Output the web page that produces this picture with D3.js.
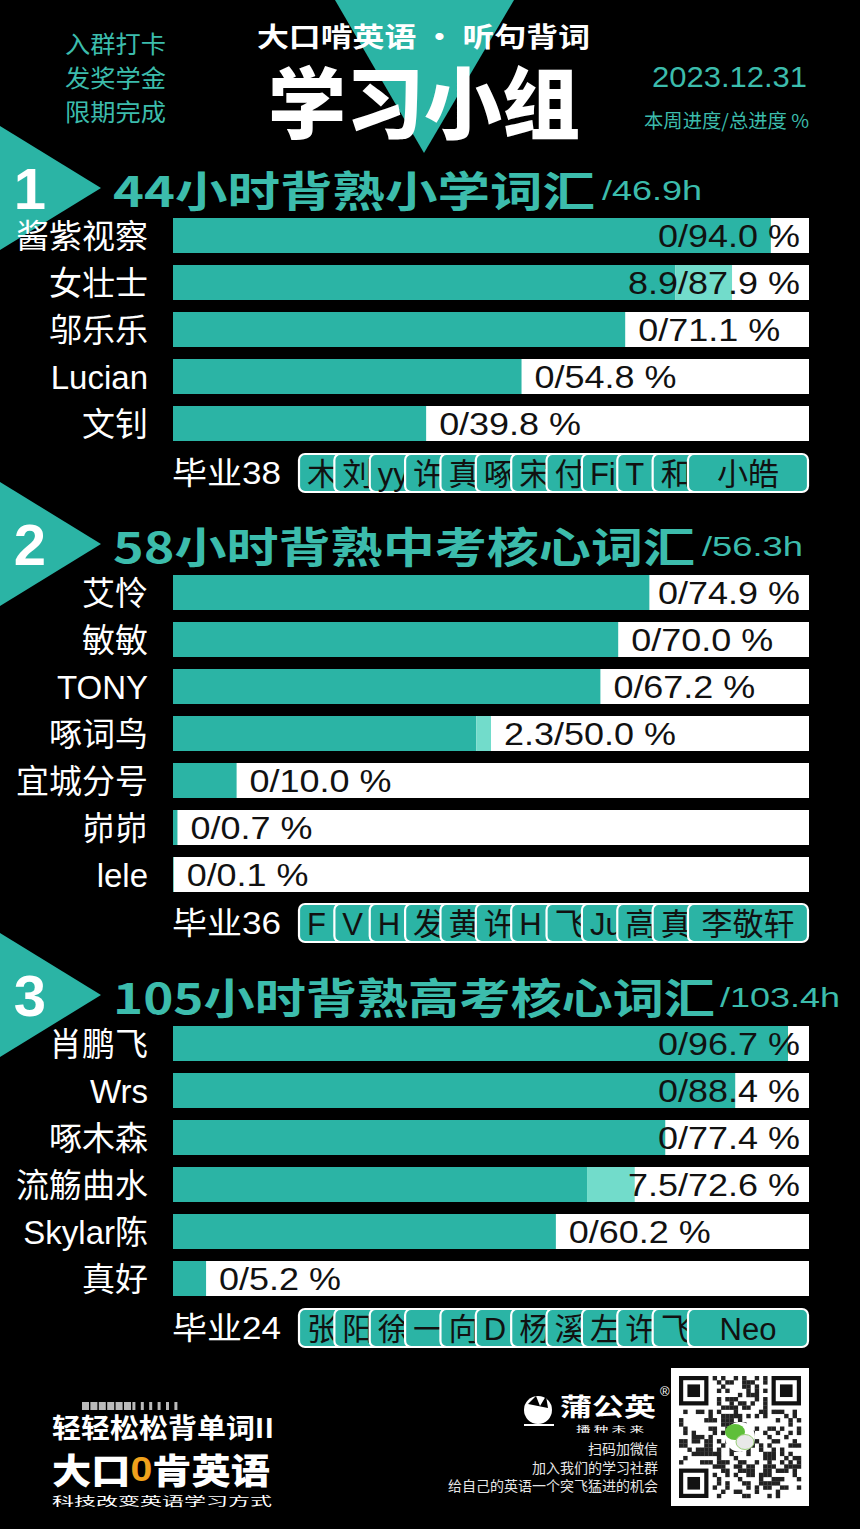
<!DOCTYPE html>
<html><head><meta charset="utf-8">
<script src="https://cdn.jsdelivr.net/npm/d3@7/dist/d3.min.js"></script>
<style>html,body{margin:0;padding:0;background:#000;}svg{display:block;}</style>
</head><body>
<script>
// ---------------- DATA ----------------
const groupNums = ["1", "2", "3"];
const groupTitles = ["44小时背熟小学词汇", "58小时背熟中考核心词汇", "105小时背熟高考核心词汇"];
const groupHours = ["/46.9h", "/56.3h", "/103.4h"];

const names1 = ["酱紫视察", "女壮士", "邬乐乐", "Lucian", "文钊"];
const weekly1 = [0, 8.9, 0, 0, 0];
const total1 = [94.0, 87.9, 71.1, 54.8, 39.8];

const names2 = ["艾怜", "敏敏", "TONY", "啄词鸟", "宜城分号", "峁峁", "lele"];
const weekly2 = [0, 0, 0, 2.3, 0, 0, 0];
const total2 = [74.9, 70.0, 67.2, 50.0, 10.0, 0.7, 0.1];

const names3 = ["肖鹏飞", "Wrs", "啄木森", "流觞曲水", "Skylar陈", "真好"];
const weekly3 = [0, 0, 0, 7.5, 0, 0];
const total3 = [96.7, 88.4, 77.4, 72.6, 60.2, 5.2];

const gradCounts = [38, 36, 24];
const gradNames1 = ["木", "刘", "yy", "许", "真", "啄", "宋", "付", "Fi", "T", "和", "小皓"];
const gradNames2 = ["F", "V", "H", "发", "黄", "许", "H", "飞", "Ju", "高", "真", "李敬轩"];
const gradNames3 = ["张", "阳", "徐", "一", "向", "D", "杨", "溪", "左", "许", "飞", "Neo"];

const headerLeft = ["入群打卡", "发奖学金", "限期完成"];
const footerLines = ["扫码加微信", "加入我们的学习社群", "给自己的英语一个突飞猛进的机会"];

// ---------------- LAYOUT ----------------
const W = 860, H = 1529;
const TEAL = "#2bb4a5", LIGHT = "#72dccb", TTXT = "#3cbcac";
const CJK = "'Noto Sans CJK SC', 'Noto Sans', sans-serif";
const LAT = "'Liberation Sans', 'Noto Sans CJK SC', sans-serif";

const groups = [
  {names: names1, weekly: weekly1, total: total1, grad: gradNames1, titleY: 188, barTop: 218, gradY: 473, titleLen: 482, hourX: 602, hourLen: 100},
  {names: names2, weekly: weekly2, total: total2, grad: gradNames2, titleY: 544, barTop: 575, gradY: 923, titleLen: 582, hourX: 702, hourLen: 101},
  {names: names3, weekly: weekly3, total: total3, grad: gradNames3, titleY: 995, barTop: 1026, gradY: 1328, titleLen: 602, hourX: 720, hourLen: 120}
];

const svg = d3.select("body").append("svg").attr("width", W).attr("height", H);
svg.append("rect").attr("width", W).attr("height", H).attr("fill", "#000");

function addText(parent, str, o) {
  const t = parent.append("text").text(str)
    .attr("x", o.x).attr("y", o.y)
    .attr("font-family", o.family || CJK)
    .attr("font-size", o.size)
    .attr("font-weight", o.weight || "normal")
    .attr("fill", o.fill || "#fff")
    .attr("text-anchor", o.anchor || "start")
    .attr("dominant-baseline", "central");
  if (o.len) t.attr("textLength", o.len).attr("lengthAdjust", "spacingAndGlyphs");
  if (o.ls) t.attr("letter-spacing", o.ls);
  return t;
}

// ---------------- HEADER ----------------
svg.append("path").attr("d", "M335,0 L514,0 L424,153 Z").attr("fill", TEAL);

const hl = d3.scaleBand().domain(headerLeft).range([25, 128]);
headerLeft.forEach(s => addText(svg, s, {x: 65, y: hl(s) + hl.bandwidth() / 2, size: 24, fill: TTXT, len: 101}));

addText(svg, "大口啃英语 · 听句背词", {x: 257, y: 35, size: 27, weight: "bold", len: 333});
const big = addText(svg, "学习小组", {x: 0, y: 0, size: 70, weight: "900", len: 312});
big.attr("transform", "translate(268,99) scale(1,1.12)");
addText(svg, "2023.12.31", {x: 652, y: 76, size: 30, family: LAT, fill: TTXT, len: 155});
addText(svg, "本周进度/总进度 %", {x: 644, y: 119, size: 19, fill: TTXT, len: 165});

// ---------------- GROUPS ----------------
const x = d3.scaleLinear().domain([0, 100]).range([173, 809]);
const STEP = 47, BAR = 35;

groups.forEach((g, gi) => {
  const G = svg.append("g");
  const ty = g.titleY;
  G.append("path").attr("d", `M0,${ty - 62} L101,${ty} L0,${ty + 62} Z`).attr("fill", TEAL);
  addText(G, groupNums[gi], {x: 30, y: ty, size: 58, weight: "bold", family: LAT, anchor: "middle"});
  addText(G, groupTitles[gi], {x: 113, y: ty, size: 42, weight: "bold", fill: TTXT, len: g.titleLen});
  addText(G, groupHours[gi], {x: g.hourX, y: ty + 2, size: 28, family: LAT, fill: TTXT, len: g.hourLen});

  const n = g.names.length;
  const y = d3.scaleBand().domain(d3.range(n))
    .range([g.barTop, g.barTop + n * STEP - (STEP - BAR)])
    .paddingInner((STEP - BAR) / STEP).paddingOuter(0);

  const rows = G.selectAll("g.row").data(d3.range(n)).join("g").attr("class", "row");
  rows.append("rect").attr("x", x(0)).attr("y", i => y(i)).attr("width", x(100) - x(0)).attr("height", y.bandwidth()).attr("fill", "#fff");
  rows.append("rect").attr("x", x(0)).attr("y", i => y(i)).attr("width", i => x(g.total[i] - g.weekly[i]) - x(0)).attr("height", y.bandwidth()).attr("fill", TEAL);
  rows.append("rect").attr("x", i => x(g.total[i] - g.weekly[i])).attr("y", i => y(i)).attr("width", i => x(g.total[i]) - x(g.total[i] - g.weekly[i])).attr("height", y.bandwidth()).attr("fill", LIGHT);
  rows.each(function (i) {
    const r = d3.select(this);
    const cy = y(i) + y.bandwidth() / 2;
    addText(r, g.names[i], {x: 148, y: cy + 1, size: 33, family: LAT, anchor: "end"});
    const label = (g.weekly[i] === 0 ? "0" : g.weekly[i].toFixed(1)) + "/" + g.total[i].toFixed(1) + " %";
    const sx = 1.16;
    const t = addText(r, label, {x: 0, y: 0, size: 31, family: LAT, fill: "#111"});
    const w = t.node().getComputedTextLength() * sx;
    const px = Math.min(x(g.total[i]) + 13, 800 - w);
    t.attr("transform", `translate(${px},${cy + 1}) scale(${sx},1)`);
  });

  // graduates row
  addText(G, "毕业" + gradCounts[gi], {x: 172, y: g.gradY, size: 31, family: LAT, len: 109});
  const m = g.grad.length;
  const bx = d3.scaleLinear().domain([0, m - 1]).range([299, 688]);
  const bw = i => (i === m - 1 ? 808 - bx(i) : 52);
  const badges = G.selectAll("g.badge").data(d3.range(m)).join("g").attr("class", "badge");
  badges.append("rect").attr("x", i => bx(i)).attr("y", g.gradY - 19).attr("width", bw).attr("height", 38)
    .attr("rx", 6).attr("fill", TEAL).attr("stroke", "#fff").attr("stroke-width", 2.2);
  badges.each(function (i) {
    const b = d3.select(this);
    if (i === m - 1) addText(b, g.grad[i], {x: bx(i) + bw(i) / 2, y: g.gradY + 1, size: 31, family: LAT, fill: "#111", anchor: "middle"});
    else addText(b, g.grad[i], {x: bx(i) + 8, y: g.gradY + 1, size: 31, family: LAT, fill: "#111"});
  });
});

// ---------------- FOOTER ----------------
const F = svg.append("g");
d3.range(12).forEach(k => F.append("rect").attr("x", 82 + k * 8.4).attr("y", 1402).attr("width", k < 6 ? 7 : 3).attr("height", 8).attr("fill", "#bbb"));
addText(F, "轻轻松松背单词II", {x: 52, y: 1426, size: 27, weight: "bold", len: 222});
const logo = F.append("text").attr("x", 52).attr("y", 1468).attr("font-family", CJK).attr("font-size", 35).attr("font-weight", "900")
  .attr("dominant-baseline", "central").attr("textLength", 218).attr("lengthAdjust", "spacingAndGlyphs");
logo.append("tspan").text("大口").attr("fill", "#fff");
logo.append("tspan").text("0").attr("fill", "#f0a21c").attr("font-family", LAT);
logo.append("tspan").text("肯英语").attr("fill", "#fff");
addText(F, "科技改变英语学习方式", {x: 52, y: 1500, size: 12, len: 220});

// 蒲公英 logo
F.append("circle").attr("cx", 538).attr("cy", 1410).attr("r", 14).attr("fill", "#fff");
F.append("path").attr("d", "M528,1404 L536,1396 L540,1406 L546,1396 L548,1408 Z").attr("fill", "#000");
F.append("rect").attr("x", 524).attr("y", 1424).attr("width", 30).attr("height", 2).attr("fill", "#fff");
addText(F, "蒲公英", {x: 560, y: 1405, size: 25, weight: "bold", len: 96});
addText(F, "®", {x: 660, y: 1391, size: 13, family: LAT});
addText(F, "播 种 未 来", {x: 576, y: 1428, size: 8, len: 68});
const fl = d3.scaleBand().domain(footerLines).range([1439, 1494]);
footerLines.forEach(s => addText(F, s, {x: 658, y: fl(s) + fl.bandwidth() / 2, size: 14, fill: "#e6e6e6", anchor: "end"}));

// QR code box
const qx = 671, qy = 1368, qs = 138;
F.append("rect").attr("x", qx).attr("y", qy).attr("width", qs).attr("height", qs).attr("fill", "#fff");
const cells = 29, cs = 122 / cells, ox = qx + 8, oy = qy + 8;
const qr = F.append("g");
for (let r = 0; r < cells; r++) for (let c = 0; c < cells; c++) {
  const inFinder = (r < 8 && c < 8) || (r < 8 && c >= cells - 8) || (r >= cells - 8 && c < 8);
  if (inFinder) continue;
  if (((r * 31 + c * 17) ^ (r * c * 7)) % 5 < 2) qr.append("rect").attr("x", ox + c * cs).attr("y", oy + r * cs).attr("width", cs + 0.2).attr("height", cs + 0.2).attr("fill", "#222");
}
[[0, 0], [cells - 7, 0], [0, cells - 7]].forEach(([c, r]) => {
  qr.append("rect").attr("x", ox + c * cs).attr("y", oy + r * cs).attr("width", 7 * cs).attr("height", 7 * cs).attr("fill", "#111");
  qr.append("rect").attr("x", ox + (c + 1) * cs).attr("y", oy + (r + 1) * cs).attr("width", 5 * cs).attr("height", 5 * cs).attr("fill", "#fff");
  qr.append("rect").attr("x", ox + (c + 2) * cs).attr("y", oy + (r + 2) * cs).attr("width", 3 * cs).attr("height", 3 * cs).attr("fill", "#111");
});
F.append("circle").attr("cx", 740).attr("cy", 1437).attr("r", 15).attr("fill", "#fff");
F.append("ellipse").attr("cx", 735).attr("cy", 1432).attr("rx", 10).attr("ry", 8).attr("fill", "#5fbf3a");
F.append("ellipse").attr("cx", 745).attr("cy", 1442).attr("rx", 9).attr("ry", 7.5).attr("fill", "#e9e9e9").attr("stroke", "#9ad07a");
</script>
</body></html>
